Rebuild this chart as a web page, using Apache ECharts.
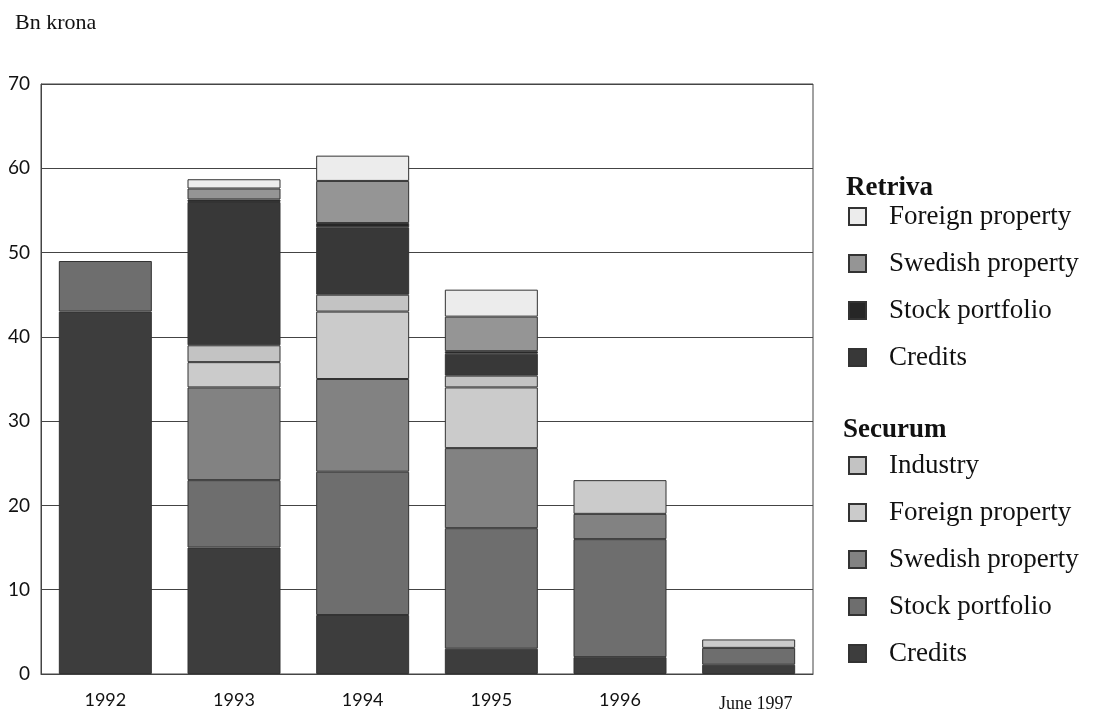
<!DOCTYPE html>
<html>
<head>
<meta charset="utf-8">
<script src="https://cdn.jsdelivr.net/npm/echarts@6/dist/echarts.min.js"></script>
<style>
  html, body { margin: 0; padding: 0; background: #fff; }
  #main { width: 1102px; height: 713px; }
</style>
</head>
<body>
<div id="main"></div>
<script>
// values, bn krona
const categories = ['1992', '1993', '1994', '1995', '1996', 'June 1997'];
const securumCredits = [43, 15, 7, 3, 2, 1.1];
const securumStock = [6, 8, 17, 14.3, 14, 2];
const securumSwedish = [null, 11, 11, 9.5, 3, null];
const securumForeign = [null, 3, 8, 7.2, 4, 1];
const securumIndustry = [null, 2, 2, 1.4, null, null];
const retrivaCredits = [null, 17, 8, 2.6, null, null];
const retrivaStock = [null, 0.3, 0.5, 0.3, null, null];
const retrivaSwedish = [null, 1.3, 5, 4.1, null, null];
const retrivaForeign = [null, 1.1, 3, 3.2, null, null];
const yTicks = [0, 10, 20, 30, 40, 50, 60, 70];

const chart = echarts.init(document.getElementById('main'));

function bar(name, data, color) {
  return {
    name: name,
    type: 'bar',
    stack: 'total',
    barWidth: 93,
    data: data,
    itemStyle: { color: color, borderColor: '#333', borderWidth: 1 },
    emphasis: { disabled: true }
  };
}

const serif = '"Liberation Serif", "DejaVu Serif", serif';
const sans = 'Lato, "Open Sans", sans-serif';

const legendText = {
  fontFamily: serif,
  fontSize: 27,
  color: '#111',
  lineHeight: 27,
  padding: [0, 0, 0, 18]
};

const option = {
  animation: false,
  title: [
    { text: 'Bn krona', left: 15, top: 12, padding: 0,
      textStyle: { fontFamily: serif, fontSize: 22, fontWeight: 'normal', color: '#111' } },
    { text: 'Retriva', left: 846, top: 175, padding: 0,
      textStyle: { fontFamily: serif, fontSize: 27, fontWeight: 'bold', color: '#111' } },
    { text: 'Securum', left: 843, top: 417, padding: 0,
      textStyle: { fontFamily: serif, fontSize: 27, fontWeight: 'bold', color: '#111' } }
  ],
  legend: [
    {
      orient: 'vertical', left: 848, top: 203, padding: 0,
      itemWidth: 17, itemHeight: 17, itemGap: 20,
      icon: 'rect',
      data: ['Retriva Foreign property', 'Retriva Swedish property', 'Retriva Stock portfolio', 'Retriva Credits'],
      formatter: function (n) { return n.replace('Retriva ', ''); },
      textStyle: legendText,
      selectedMode: false
    },
    {
      orient: 'vertical', left: 848, top: 452, padding: 0,
      itemWidth: 17, itemHeight: 17, itemGap: 20,
      icon: 'rect',
      data: ['Securum Industry', 'Securum Foreign property', 'Securum Swedish property', 'Securum Stock portfolio', 'Securum Credits'],
      formatter: function (n) { return n.replace('Securum ', ''); },
      textStyle: legendText,
      selectedMode: false
    }
  ],
  grid: {
    left: 41, right: 289, top: 84, bottom: 38,
    show: true, borderColor: '#444', borderWidth: 1
  },
  xAxis: {
    type: 'category',
    data: categories,
    axisTick: { show: false },
    axisLine: { lineStyle: { color: '#444' } },
    axisLabel: {
      interval: 0,
      hideOverlap: false,
      margin: 17,
      fontFamily: sans,
      fontSize: 18,
      color: '#111',
      formatter: function (v) { return v.indexOf('June') === 0 ? '{s|' + v + '}' : v; },
      rich: { s: { fontFamily: serif, fontSize: 18, color: '#111', padding: [4, 0, 0, 14] } }
    }
  },
  yAxis: {
    type: 'value',
    min: yTicks[0],
    max: yTicks[yTicks.length - 1],
    interval: 10,
    axisLine: { show: true, lineStyle: { color: '#444' } },
    axisTick: { show: false },
    splitLine: { lineStyle: { color: '#444', width: 1 } },
    axisLabel: { margin: 11, fontFamily: sans, fontSize: 19, color: '#111' }
  },
  series: [
    bar('Securum Credits', securumCredits, '#3d3d3d'),
    bar('Securum Stock portfolio', securumStock, '#6e6e6e'),
    bar('Securum Swedish property', securumSwedish, '#828282'),
    bar('Securum Foreign property', securumForeign, '#cbcbcb'),
    bar('Securum Industry', securumIndustry, '#c3c3c3'),
    bar('Retriva Credits', retrivaCredits, '#383838'),
    bar('Retriva Stock portfolio', retrivaStock, '#262626'),
    bar('Retriva Swedish property', retrivaSwedish, '#959595'),
    bar('Retriva Foreign property', retrivaForeign, '#ececec')
  ]
};

chart.setOption(option);
</script>
</body>
</html>
